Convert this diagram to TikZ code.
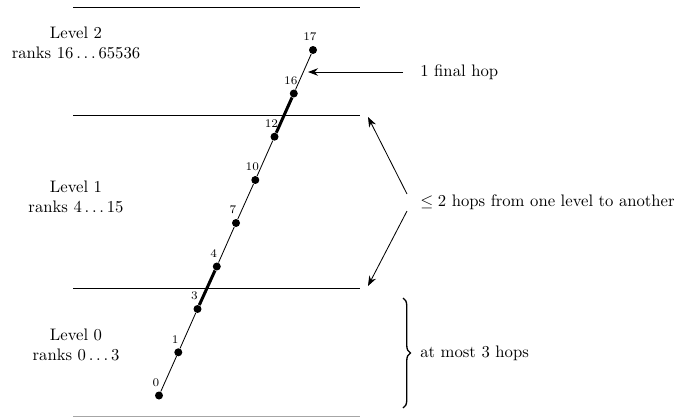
\documentclass[tikz,border=0pt]{standalone}
\usetikzlibrary{arrows.meta,decorations.pathreplacing}
\begin{document}
\begin{tikzpicture}[x=0.6pt,y=-0.6pt,
  lvl/.style={draw=black,line width=0.5pt},
  dot/.style={circle,fill=black,inner sep=0pt,minimum size=4.8pt},
  num/.style={font=\scriptsize,inner sep=0pt},
  hop/.style={line width=0.5pt},
  bighop/.style={line width=1.8pt},
  arr/.style={-{Stealth[length=6pt,width=4.5pt]},line width=0.5pt},
  txt/.style={anchor=west,inner sep=0pt},
  lvtxt/.style={align=center,inner sep=0pt}]
\useasboundingbox (0,0) rectangle (680,417);
% level boundaries
\coordinate (t1) at (73,7);   \coordinate (t2) at (360,7);
\coordinate (m1) at (73,115); \coordinate (m2) at (360,115);
\coordinate (n1) at (73,288); \coordinate (n2) at (360,288);
\coordinate (b1) at (73,416.5); \coordinate (b2) at (360,416.5);
\draw[lvl] (t1) -- (t2);
\draw[lvl] (m1) -- (m2);
\draw[lvl] (n1) -- (n2);
\draw[lvl,draw=black!35] (b1) -- (b2);
% level labels
\node[lvtxt] (L2) at (76,43) {Level 2\\ranks $16\ldots65536$};
\node[lvtxt] (L1) at (76,197) {Level 1\\ranks $4\ldots15$};
\node[lvtxt] (L0) at (76,345) {Level 0\\ranks $0\ldots3$};
% points
\foreach \n/\x/\y in {0/159/395.5,1/178.3/352.3,3/197.5/309,4/216.8/266.5,7/236/223,10/255.3/180,12/274.5/136.7,16/293.8/93.5,17/313/50}{
  \node[dot] (p\n) at (\x,\y) {};
  \node[num] (l\n) at (\x-3,\y-13) {$\n$};
}
\draw[hop] (p0) -- (p1) -- (p3);
\draw[bighop] (p3) -- (p4);
\draw[hop] (p4) -- (p7) -- (p10) -- (p12);
\draw[bighop] (p12) -- (p16);
\draw[hop] (p16) -- (p17);
% annotations
\node[txt] (fin) at (420,72) {1 final hop};
\coordinate (finT) at (403,72);
\coordinate (finH) at (308,72);
\draw[arr] (finT) -- (finH);
\node[txt] (two) at (420,202) {$\leq 2$ hops from one level to another};
\coordinate (a1) at (407,194);
\coordinate (a1h) at (368,117);
\coordinate (a2) at (407,211);
\coordinate (a2h) at (368,286);
\draw[arr] (a1) -- (a1h);
\draw[arr] (a2) -- (a2h);
\coordinate (br1) at (403,298);
\coordinate (br2) at (403,408);
\draw[line width=0.8pt,decorate,decoration={brace,amplitude=4.5pt}] (br1) -- (br2);
\node[txt] (three) at (420,353) {at most 3 hops};
\end{tikzpicture}
\end{document}
